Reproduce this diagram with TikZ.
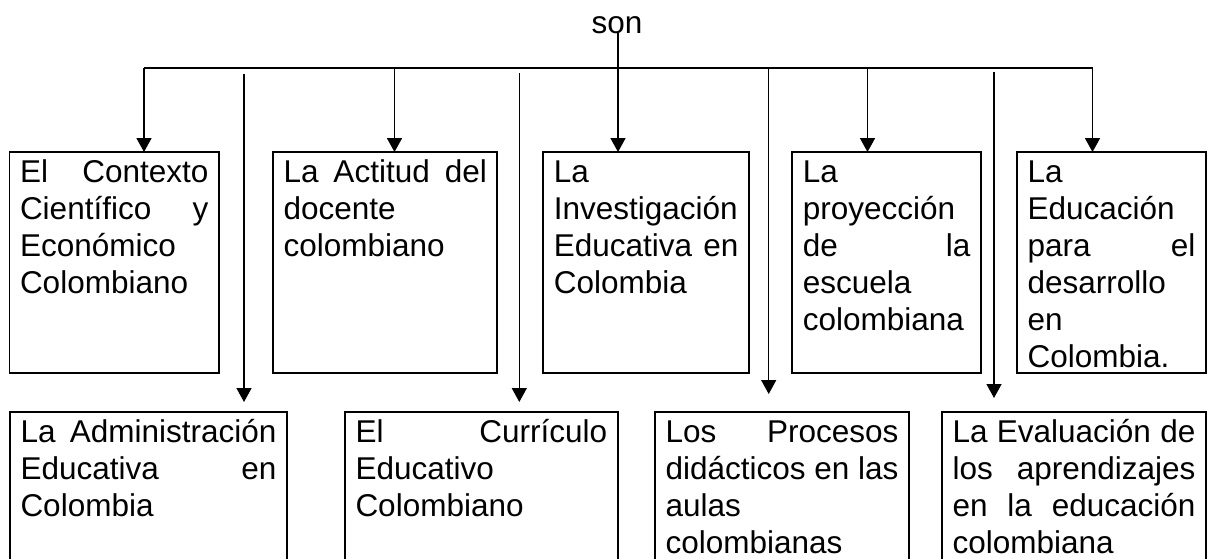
\documentclass[tikz,border=0pt]{standalone}
\usepackage{fontspec}
\setmainfont{Liberation Sans}
\usetikzlibrary{arrows.meta}
\newcommand\jl[1]{\makebox[\hsize][s]{#1}}
\newcommand\fl{\rule{0pt}{24pt}}
\begin{document}
\begin{tikzpicture}[x=1pt,y=-1pt,
  cbox/.style={draw, line width=1.8pt, inner xsep=10.5pt, inner ysep=6pt, anchor=north west, outer sep=0pt,
    font=\fontsize{31.5}{37}\selectfont},
  busline/.style={line width=2pt},
  arr/.style={line width=1.7pt, -{Triangle[width=15pt,length=14pt]}},
  longarr/.style={line width=1.3pt, -{Triangle[width=15pt,length=14pt]}}]
\useasboundingbox (0,0) rectangle (1209,558);
\clip (0,0) rectangle (1209,558);
% top row
\node[cbox] (b1) at (9.5,152) {\parbox[t][209pt][t]{188.5pt}{\fl\jl{El Contexto}\\\jl{Científico y}\\Económico\\Colombiano}};
\node[cbox] (b2) at (273,152) {\parbox[t][209pt][t]{203.3pt}{\fl\jl{La Actitud del}\\docente\\colombiano}};
\node[cbox] (b3) at (543.3,152) {\parbox[t][209pt][t]{184.7pt}{\fl La\\Investigación\\\jl{Educativa en}\\Colombia}};
\node[cbox] (b4) at (792.3,152) {\parbox[t][209pt][t]{167.7pt}{\fl La\\proyección\\\jl{de la}\\escuela\\colombiana}};
\node[cbox] (b5) at (1017,152) {\parbox[t][209pt][t]{168pt}{\fl La\\Educación\\\jl{para el}\\desarrollo\\en\\Colombia.}};
% bottom row
\node[cbox] (bA) at (10,412) {\parbox[t][146pt][t]{256pt}{\fl\jl{La Administración}\\\jl{Educativa en}\\Colombia}};
\node[cbox] (bB) at (345,412) {\parbox[t][146pt][t]{251.7pt}{\fl\jl{El Currículo}\\Educativo\\Colombiano}};
\node[cbox] (bC) at (655,412) {\parbox[t][146pt][t]{233pt}{\fl\jl{Los Procesos}\\\jl{didácticos en las}\\aulas\\colombianas}};
\node[cbox] (bD) at (942,412) {\parbox[t][146pt][t]{243pt}{\fl\jl{La Evaluación de}\\\jl{los aprendizajes}\\\jl{en la educación}\\colombiana}};
% title
\node[inner sep=0pt, anchor=base, font=\fontsize{31.5}{37}\selectfont] (son) at (617,33) {son};
% bus
\coordinate (busL) at (144,68.3);
\coordinate (busR) at (1092.5,68.3);
\coordinate (t2) at (394.5,68.3);
\coordinate (t4) at (867.5,68.3);
\draw[busline] (busL) -- (busR);
\draw[arr] (busL) -- (busL |- b1.north);
\draw[arr] (t2) -- (t2 |- b2.north);
\draw[arr] ([xshift=1pt]son.base) -- ([xshift=1pt]son.base |- b3.north);
\draw[arr] (t4) -- (t4 |- b4.north);
\draw[arr] (busR) -- (busR |- b5.north);
% long arrows
\coordinate (l1) at (244,74);
\coordinate (l2) at (519.3,73);
\coordinate (l3) at (768.7,67);
\coordinate (l4) at (994,72);
\draw[longarr, shorten >=10pt] (l1) -- (l1 |- bA.north);
\draw[longarr, shorten >=10pt] (l2) -- (l2 |- bB.north);
\draw[longarr, shorten >=18pt] (l3) -- (l3 |- bC.north);
\draw[longarr, shorten >=14pt] (l4) -- (l4 |- bD.north);
\end{tikzpicture}
\end{document}
